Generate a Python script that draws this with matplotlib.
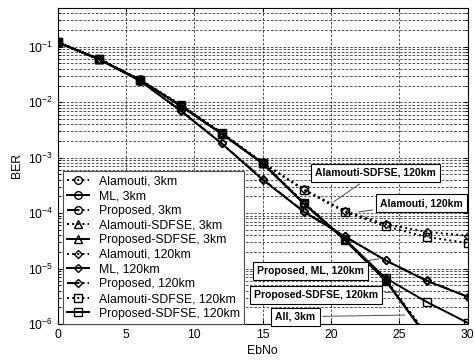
import matplotlib
matplotlib.use('Agg')
import matplotlib.pyplot as plt
from matplotlib.ticker import LogLocator, NullFormatter

plt.rcParams['font.family'] = ['Liberation Sans', 'DejaVu Sans']
plt.rcParams['mathtext.fontset'] = 'custom'
plt.rcParams['mathtext.rm'] = 'Liberation Sans'

# Eb/No points (dB)
snr = [0, 3, 6, 9, 12, 15, 18, 21, 24, 27, 30]

# BER curves, 3 km/h
ber_ala_3km = [0.12, 0.060, 0.0255, 0.0088, 0.0028, 8.1e-4, 1.55e-4, 3.4e-5, 6.4e-6, 6.5e-7, 4e-8]
ber_ml_3km = [0.12, 0.060, 0.0252, 0.0086, 0.0027, 7.9e-4, 1.5e-4, 3.3e-5, 6.1e-6, 6.0e-7, 4e-8]
ber_prop_3km = [0.12, 0.060, 0.0253, 0.0087, 0.0027, 8.0e-4, 1.5e-4, 3.3e-5, 6.2e-6, 6.1e-7, 4e-8]
ber_alasd_3km = [0.12, 0.060, 0.0254, 0.0087, 0.0028, 8.0e-4, 1.52e-4, 3.4e-5, 6.3e-6, 6.3e-7, 4e-8]
ber_propsd_3km = [0.12, 0.060, 0.0252, 0.0086, 0.0027, 7.9e-4, 1.5e-4, 3.3e-5, 6.0e-6, 5.9e-7, 4e-8]

# BER curves, 120 km/h
ber_ala_120 = [0.12, 0.061, 0.0258, 0.0090, 0.0028, 8.2e-4, 2.7e-4, 1.1e-4, 6.3e-5, 4.6e-5, 3.9e-5]
ber_ml_120 = [0.12, 0.060, 0.0245, 0.0070, 0.0018, 4.0e-4, 1.06e-4, 3.8e-5, 1.4e-5, 6.0e-6, 3.1e-6]
ber_prop_120 = [0.12, 0.060, 0.0246, 0.0071, 0.0018, 4.1e-4, 1.07e-4, 3.8e-5, 1.4e-5, 6.1e-6, 3.1e-6]
ber_alasd_120 = [0.12, 0.061, 0.0256, 0.0089, 0.0028, 8.0e-4, 2.6e-4, 1.05e-4, 5.8e-5, 3.7e-5, 2.9e-5]
ber_propsd_120 = [0.12, 0.060, 0.0254, 0.0087, 0.0027, 7.9e-4, 1.5e-4, 3.4e-5, 6.7e-6, 2.5e-6, 1.05e-6]

curves = [
    ('Alamouti, 3km', ber_ala_3km, ':', 'o'),
    ('ML, 3km', ber_ml_3km, '-', 'o'),
    ('Proposed, 3km', ber_prop_3km, '-.', 'o'),
    ('Alamouti-SDFSE, 3km', ber_alasd_3km, ':', '^'),
    ('Proposed-SDFSE, 3km', ber_propsd_3km, '-', '^'),
    ('Alamouti, 120km', ber_ala_120, ':', 'D'),
    ('ML, 120km', ber_ml_120, '-', 'D'),
    ('Proposed, 120km', ber_prop_120, '-.', 'D'),
    ('Alamouti-SDFSE, 120km', ber_alasd_120, ':', 's'),
    ('Proposed-SDFSE, 120km', ber_propsd_120, '-', 's'),
]

fig = plt.figure(figsize=(4.75, 3.64), dpi=100)
ax = fig.add_axes([57.7 / 475, 40 / 364, 410 / 475, 316 / 364])

for label, ber, ls, mk in curves:
    ms = 4.5 if mk == 'D' else 5.5
    ax.semilogy(snr, ber, color='black', linestyle=ls, linewidth=1.4,
                marker=mk, markersize=ms, markerfacecolor='none',
                markeredgewidth=1.0, label=label)

ax.set_xlim(0, 30)
ax.set_ylim(1e-6, 0.5)
ax.set_xticks([0, 5, 10, 15, 20, 25, 30])
ax.yaxis.set_major_locator(LogLocator(base=10, numticks=10))
ax.yaxis.set_minor_locator(LogLocator(base=10, subs=range(2, 10), numticks=20))
ax.yaxis.set_minor_formatter(NullFormatter())

ax.grid(True, which='major', color='0.2', linestyle=(0, (3, 2)), linewidth=0.6)
ax.grid(True, which='minor', axis='y', color='0.2', linestyle=(0, (3, 2)), linewidth=0.6)
ax.set_axisbelow(True)

ax.tick_params(which='both', direction='in', top=True, right=True, labelsize=8.8)
ax.tick_params(which='major', length=3)
ax.tick_params(which='minor', length=2)
for sp in ax.spines.values():
    sp.set_linewidth(0.8)

ax.set_xlabel('EbNo', fontsize=8.8, labelpad=3)
ax.set_ylabel('BER', fontsize=8.8, labelpad=3)

leg = ax.legend(loc='lower left', bbox_to_anchor=(0.013, 0.0), borderaxespad=0,
                fontsize=8.8, handlelength=1.8, handletextpad=0.8,
                labelspacing=0.22, borderpad=0.35, fancybox=False,
                framealpha=1, edgecolor='0.3')
leg.get_frame().set_linewidth(0.8)

# text-box annotations
box = dict(boxstyle='square,pad=0.38', fc='white', ec='black', lw=0.8)
arrow = dict(arrowstyle='-', color='0.3', lw=0.7, shrinkB=0)
notes = [
    ('Alamouti-SDFSE, 120km', (23.25, 5.3e-4), (20.2, 1.6e-4)),
    ('Alamouti, 120km', (26.6, 1.5e-4), (22.0, 1.05e-4)),
    ('Proposed, ML, 120km', (18.5, 9.2e-6), (23.5, 1.5e-5)),
    ('Proposed-SDFSE, 120km', (18.9, 3.3e-6), (25.2, 3.8e-6)),
    ('All, 3km', (17.4, 1.35e-6), (25.4, 1.45e-6)),
]
for text, xytext, xy in notes:
    ax.annotate(text, xy=xy, xytext=xytext, fontsize=7.5, fontweight='bold',
                ha='center', va='center', bbox=box, arrowprops=arrow, zorder=5)

fig.savefig('out.png', dpi=100)
